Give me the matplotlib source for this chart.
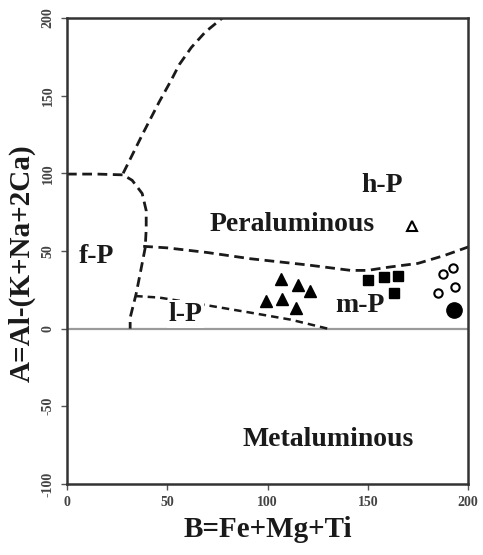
import matplotlib
matplotlib.use("Agg")
import matplotlib.pyplot as plt

# --- data (B-A diagram) ---
# sample groups
tri_B = [106.5, 115, 121, 99, 107, 114]
tri_A = [32, 28, 24, 18, 19, 13]
sq_B = [150, 158, 165, 163]
sq_A = [31, 33, 34, 23]
ocirc_B = [187.5, 192.5, 185, 193.5]
ocirc_A = [35, 39, 23, 27]
fcirc_B = [193]
fcirc_A = [12]
otri_B = [172]
otri_A = [66]

# field boundaries
fp_B = [0, 15, 28, 32.5, 37.5, 39.5, 39.5, 39, 36.5, 34.5, 31.5, 31.5]
fp_A = [99.5, 99.5, 99, 95.5, 87, 76, 64, 52, 35.5, 22.5, 7, 0]
top_B = [28, 33, 38, 46, 52, 56, 62, 69, 77.5]
top_A = [100, 113, 126, 146, 160, 170, 181, 191, 200]
hp_B = [38, 50, 70, 91.5, 120, 141.5, 150, 160, 175, 188, 201]
hp_A = [53, 52, 49, 45, 41, 37.5, 37.5, 39.5, 42, 47, 53]
lp_B = [34, 46, 70, 91.5, 111.5, 130]
lp_A = [21, 20, 15, 10.3, 5.8, 0]

x_ticks = [0, 50, 100, 150, 200]
y_ticks = [-100, -50, 0, 50, 100, 150, 200]

serif = ["Liberation Serif", "DejaVu Serif"]

fig = plt.figure(figsize=(4.83, 5.55), dpi=100)
ax = fig.add_axes([0.1387, 0.128, 0.8303, 0.8396])

ax.axhline(0, color="#9a9a9a", lw=1.6, zorder=1)

dash = dict(color="#1a1a1a", lw=2.0, ls=(0, (3.5, 2)), zorder=2)
ax.plot(fp_B, fp_A, **dash)
ax.plot(top_B, top_A, **dash)
ax.plot(hp_B, hp_A, **dash)
ax.plot(lp_B, lp_A, color="#1a1a1a", lw=1.8, ls=(0, (3, 2)), zorder=2)

ax.plot(tri_B, tri_A, "^", color="black", ms=8, ls="none", zorder=3)
ax.plot(sq_B, sq_A, "s", color="black", ms=7.5, ls="none", zorder=3)
ax.plot(ocirc_B, ocirc_A, "o", mfc="white", mec="black", mew=1.5, ms=6,
        ls="none", zorder=3)
ax.plot(fcirc_B, fcirc_A, "o", color="black", ms=11, ls="none", zorder=3)
ax.plot(otri_B, otri_A, "^", mfc="white", mec="black", mew=1.5, ms=7,
        ls="none", zorder=3)

txt = dict(family=serif, fontweight="bold", fontsize=20, color="#1a1a1a",
           ha="center", va="baseline", zorder=4)
ax.text(157, 88, "h-P", **txt)
ax.text(112.5, 63, "Peraluminous", **txt)
ax.text(14.5, 42.5, "f-P", **txt)
ax.text(59, 5, "l-P", bbox=dict(fc="white", ec="none", pad=1), **txt)
ax.text(146, 11, "m-P", **txt)
ax.text(130, -75.5, "Metaluminous", **txt)

ax.set_xlim(0, 200)
ax.set_ylim(-100, 200)
ax.set_xticks(x_ticks)
ax.set_yticks(y_ticks)
ax.set_xticklabels([str(v) for v in x_ticks], family=serif,
                   fontweight="bold", fontsize=10, color="#444444")
ax.set_yticklabels([str(v) for v in y_ticks], family=serif,
                   fontweight="bold", fontsize=10, color="#444444",
                   rotation=90, va="center")
ax.tick_params(direction="out", length=4, width=1, color="#555555", pad=5)

for s in ax.spines.values():
    s.set_linewidth(1.8)
    s.set_color("#333333")

ax.set_xlabel("B=Fe+Mg+Ti", family=serif, fontweight="bold", fontsize=21,
              color="#1a1a1a", labelpad=5)
ax.set_ylabel("A=Al-(K+Na+2Ca)", family=serif, fontweight="bold",
              fontsize=21, color="#1a1a1a", labelpad=4)
ax.yaxis.label.set_y(0.473)

fig.savefig("out.png", dpi=100)
